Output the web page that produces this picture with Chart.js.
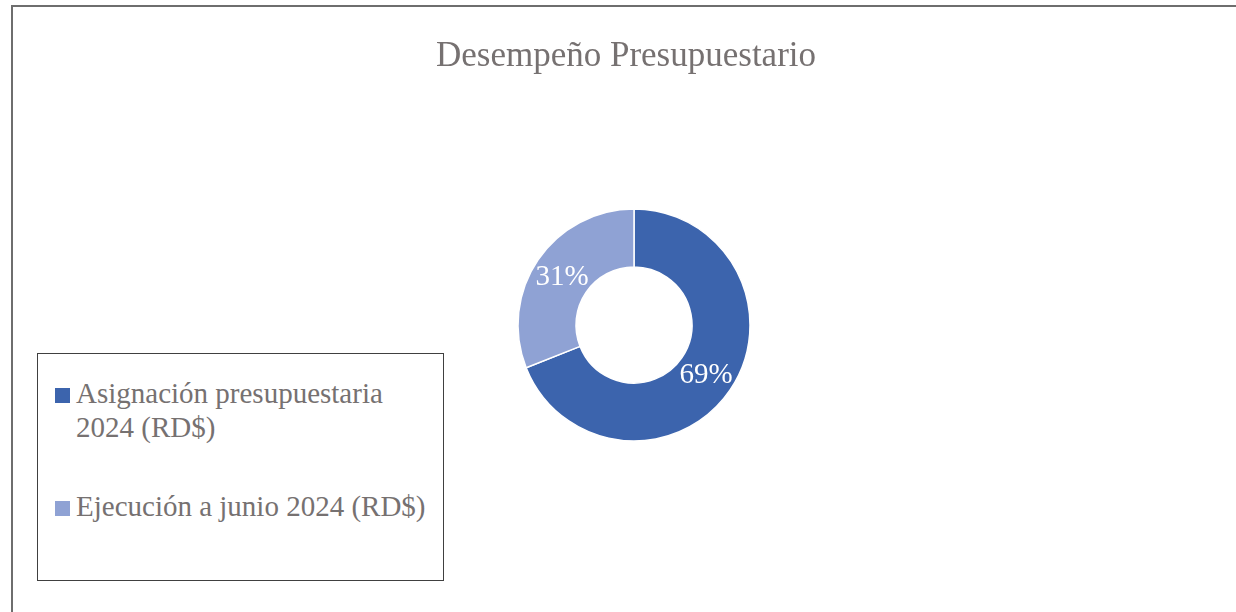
<!DOCTYPE html>
<html>
<head>
<meta charset="utf-8">
<script src="https://cdn.jsdelivr.net/npm/chart.js@4"></script>
<style>
  body { margin: 0; background: #fff; overflow: hidden; }
  #frame { position: absolute; left: 11px; top: 5px; width: 1300px; height: 700px; border: 2px solid #6e6e6e; box-sizing: border-box; }
  #c { position: absolute; left: 0; top: 0; }
  #legend { position: absolute; left: 37px; top: 353px; width: 407px; height: 228px; border: 1px solid #404040; box-sizing: border-box; background: #fff;
    font-family: 'Liberation Serif', 'Times New Roman', serif; font-size: 29px; line-height: 34px; color: #767171; }
  .item { position: absolute; left: 38px; width: 366px; }
  .item.wrap { width: 330px; }
  .item .mk { position: absolute; left: -21px; top: 12px; width: 15px; height: 15px; }
</style>
</head>
<body>
<div id="frame"></div>
<canvas id="c" width="1236" height="612"></canvas>
<div id="legend"></div>
<script>
const title = 'Desempeño Presupuestario';
const labels = ['Asignación presupuestaria 2024 (RD$)', 'Ejecución a junio 2024 (RD$)'];
const values = [69, 31];
const colors = ['#3c64ad', '#8fa2d4'];

const serif = "'Liberation Serif', 'Times New Roman', serif";

// legend in html so the long label can wrap like the original
const legend = document.getElementById('legend');
const itemTops = [22, 135];
labels.forEach((txt, i) => {
  const d = document.createElement('div');
  d.className = i === 0 ? 'item wrap' : 'item';
  d.style.top = itemTops[i] + 'px';
  d.innerHTML = '<span class="mk" style="background:' + colors[i] + '"></span>' + txt;
  legend.appendChild(d);
});

const pctLabels = {
  id: 'pctLabels',
  afterDatasetsDraw(chart) {
    const ctx = chart.ctx;
    const meta = chart.getDatasetMeta(0);
    const total = values.reduce((a, b) => a + b, 0);
    ctx.save();
    ctx.font = '29px ' + serif;
    ctx.fillStyle = '#ffffff';
    ctx.textAlign = 'center';
    ctx.textBaseline = 'middle';
    meta.data.forEach((arc, i) => {
      const p = arc.tooltipPosition();
      ctx.fillText(Math.round(values[i] / total * 100) + '%', p.x, p.y + 1);
    });
    ctx.restore();
  }
};

// nudge the title a bit left of the doughnut centre
const titleShift = {
  id: 'titleShift',
  afterLayout(chart) {
    if (chart.titleBlock) {
      chart.titleBlock.left -= 8;
      chart.titleBlock.right -= 8;
    }
  }
};

const ctx = document.getElementById('c').getContext('2d');
const chart = new Chart(ctx, {
  type: 'doughnut',
  data: {
    labels: labels,
    datasets: [{
      data: values,
      backgroundColor: colors,
      borderColor: '#ffffff',
      borderWidth: 1.5
    }]
  },
  options: {
    responsive: false,
    animation: false,
    radius: 116,
    cutout: '50%',
    layout: { padding: { left: 32, bottom: 50 } },
    plugins: {
      legend: { display: false },
      tooltip: { enabled: false },
      title: {
        display: true,
        text: title,
        color: '#767171',
        font: { family: serif, size: 35, weight: 'normal' },
        padding: { top: 36, bottom: 10 }
      }
    }
  },
  plugins: [pctLabels, titleShift]
});
</script>
</body>
</html>
